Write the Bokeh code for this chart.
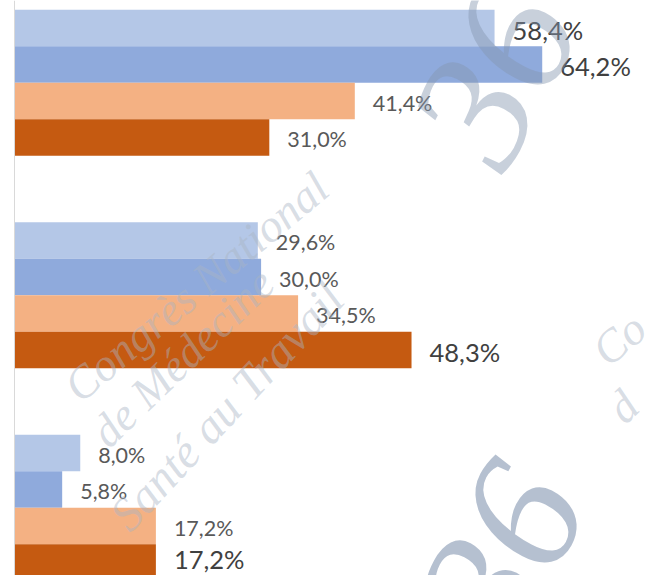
import math
from bokeh.plotting import figure
from bokeh.models import Range1d, ColumnDataSource, Span
from bokeh.core.properties import value
from bokeh.embed import file_html
from bokeh.resources import INLINE

# ---------------- data ----------------
groups = ["Groupe 1", "Groupe 2", "Groupe 3"]
series_names = ["Série 1", "Série 2", "Série 3", "Série 4"]
serie_1 = [58.4, 29.6, 8.0]
serie_2 = [64.2, 30.0, 5.8]
serie_3 = [41.4, 34.5, 17.2]
serie_4 = [31.0, 48.3, 17.2]
series = [serie_1, serie_2, serie_3, serie_4]

# ---------------- style ----------------
colors = ["#b4c7e7", "#8faadc", "#f4b183", "#c55a11"]
big_label = [[True, True, False, False],
             [False, False, False, True],
             [False, False, False, True]]
label_dy = [[2, 2, 2, 2],
            [2, 2, 2, 2],
            [2, 2, 2, -3]]
BIG, SMALL = "25.5px", "21.5px"
GROUP_STEP = 5.822   # in bar heights

W, H = 645, 575
PX_PER_PCT = 8.22
X0_PX = 14
BAR_PX = 36.5
Y_TOP = -0.75

x_start = -X0_PX / PX_PER_PCT
x_end = x_start + W / PX_PER_PCT
y_end_bottom = Y_TOP + H / BAR_PX

p = figure(width=W, height=H, output_backend="svg", toolbar_location=None,
           x_range=Range1d(x_start, x_end),
           y_range=Range1d(y_end_bottom, Y_TOP),
           min_border=0, x_axis_location=None, y_axis_location=None)
p.outline_line_color = None
p.grid.visible = False
p.background_fill_color = "white"


def to_data(px, py):
    """picture pixel -> data coordinates (decorative watermark only)"""
    return ((px - X0_PX) / PX_PER_PCT, py / BAR_PX + Y_TOP)


# ---------------- axis line ----------------
p.add_layout(Span(location=0, dimension="height", line_color="#d9d9d9", line_width=1))

# ---------------- bars + labels ----------------
for k, vals in enumerate(series):
    n = len(groups)
    ys = [g * GROUP_STEP + k for g in range(n)]
    labels = [f"{v:.1f}".replace(".", ",") + "%" for v in vals]
    sizes = [BIG if big_label[g][k] else SMALL for g in range(n)]
    lcol = ["#404040" if big_label[g][k] else "#595959" for g in range(n)]
    dys = [label_dy[g][k] for g in range(n)]
    src = ColumnDataSource(dict(y=ys, v=vals, lab=labels, size=sizes, col=lcol, dy=dys))
    p.hbar(y="y", left=0, right="v", height=1.0, source=src,
           fill_color=colors[k], line_color=None, legend_label=series_names[k])
    p.text(x="v", y="y", text="lab", source=src, x_offset=18, y_offset="dy",
           text_font=value("Lato"), text_font_size="size", text_color="col",
           text_baseline="middle", text_align="left")

p.legend.visible = False

# ---------------- watermark (drawn over the bars, faint) ----------------
wm = [
    ("Congrès National", 70, 392, 40, 46),
    ("de Médecine", 98, 438, 44, 46),
    ("Santé au Travail", 118, 522, 47, 48),
    ("Co", 598, 356, 40, 46),
    ("d", 614, 414, 44, 46),
]
for txt, px, py, ang, sz in wm:
    x, y = to_data(px, py)
    p.text(x=[x], y=[y], text=[txt], angle=math.radians(ang),
           text_font=value("Liberation Serif"), text_font_style="italic",
           text_font_size=f"{sz}px", text_color="#aab5c4", text_alpha=0.45,
           text_baseline="alphabetic", text_align="left")
for ax, ay, al in [(462, 628, 0.6), (455, 150, 0.45)]:
    x36, y36 = to_data(ax, ay)
    p.text(x=[x36], y=[y36], text=["36"], angle=math.radians(62),
           text_font=value("Liberation Serif"), text_font_style="italic",
           text_font_size="170px", text_color="#8496b0", text_alpha=al,
           text_baseline="alphabetic", text_align="left")

open("out.html", "w").write(file_html(p, INLINE))
